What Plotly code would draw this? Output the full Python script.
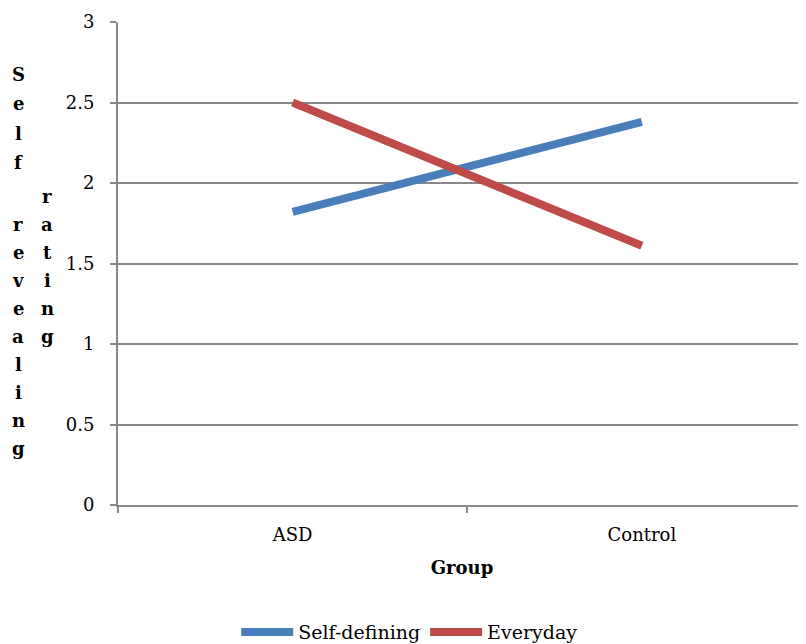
import plotly.graph_objects as go

groups = ["ASD", "Control"]
self_defining = [1.82, 2.38]
everyday = [2.50, 1.61]
y_ticks = [0, 0.5, 1, 1.5, 2, 2.5, 3]
y_tick_labels = ["0", "0.5", "1", "1.5", "2", "2.5", "3"]
title_col1 = "Self revealing"
title_col2 = "rating"

FONT = "DejaVu Serif"
GRID = "#888888"
W, H = 798, 636          # page body has an 8px margin
ML, MT, MB = 110, 14, 139
PH = H - MT - MB
PW = W - ML

fig = go.Figure()
fig.add_trace(go.Scatter(x=groups, y=self_defining, mode="lines", name="Self-defining",
                         line=dict(color="#4A7EBB", width=8)))
fig.add_trace(go.Scatter(x=groups, y=everyday, mode="lines", name="Everyday",
                         line=dict(color="#BE4B48", width=8)))

# Stacked vertical axis title, Excel-style wrapping (one letter per line)
def add_letters(text, col_x, first_y, step):
    for i, ch in enumerate(text):
        ypx = first_y + step * i
        fig.add_annotation(text="<b>" + ch + "</b>", xref="paper", yref="paper",
                           x=(col_x - ML) / PW, y=1 - (ypx - MT) / PH,
                           xanchor="center", yanchor="middle", showarrow=False,
                           font=dict(family=FONT, size=18, color="black"))

words = title_col1.split(" ")
add_letters(words[0], 10, 66, 29.5)
add_letters(words[1], 10, 216, 28.0)
add_letters(title_col2, 39, 188, 28.0)

fig.update_layout(
    width=W, height=H,
    margin=dict(l=ML, r=0, t=MT, b=MB, autoexpand=False),
    plot_bgcolor="white", paper_bgcolor="white",
    font=dict(family=FONT, size=18, color="black"),
    showlegend=True,
    legend=dict(orientation="h", xanchor="center", x=0.424, yanchor="middle", y=-0.263,
                font=dict(family=FONT, size=19, color="black"), itemwidth=52,
                tracegroupgap=0),
    xaxis=dict(type="category", range=[-0.5, 1.47], tickson="boundaries",
               ticks="outside", ticklen=6, tickcolor=GRID, tickwidth=1.5,
               showline=True, linecolor=GRID, linewidth=2, showgrid=False,
               ticklabelstandoff=12, automargin=False,
               title=dict(text="<b>Group</b>", standoff=18,
                          font=dict(family=FONT, size=18))),
    yaxis=dict(range=[0, 3], tickvals=y_ticks, ticktext=y_tick_labels,
               ticks="outside", ticklen=6, tickcolor=GRID, tickwidth=1.5,
               showline=True, linecolor=GRID, linewidth=2,
               showgrid=True, gridcolor=GRID, gridwidth=1.5, zeroline=False,
               ticklabelstandoff=12, automargin=False),
)

fig.write_html("out.html")
